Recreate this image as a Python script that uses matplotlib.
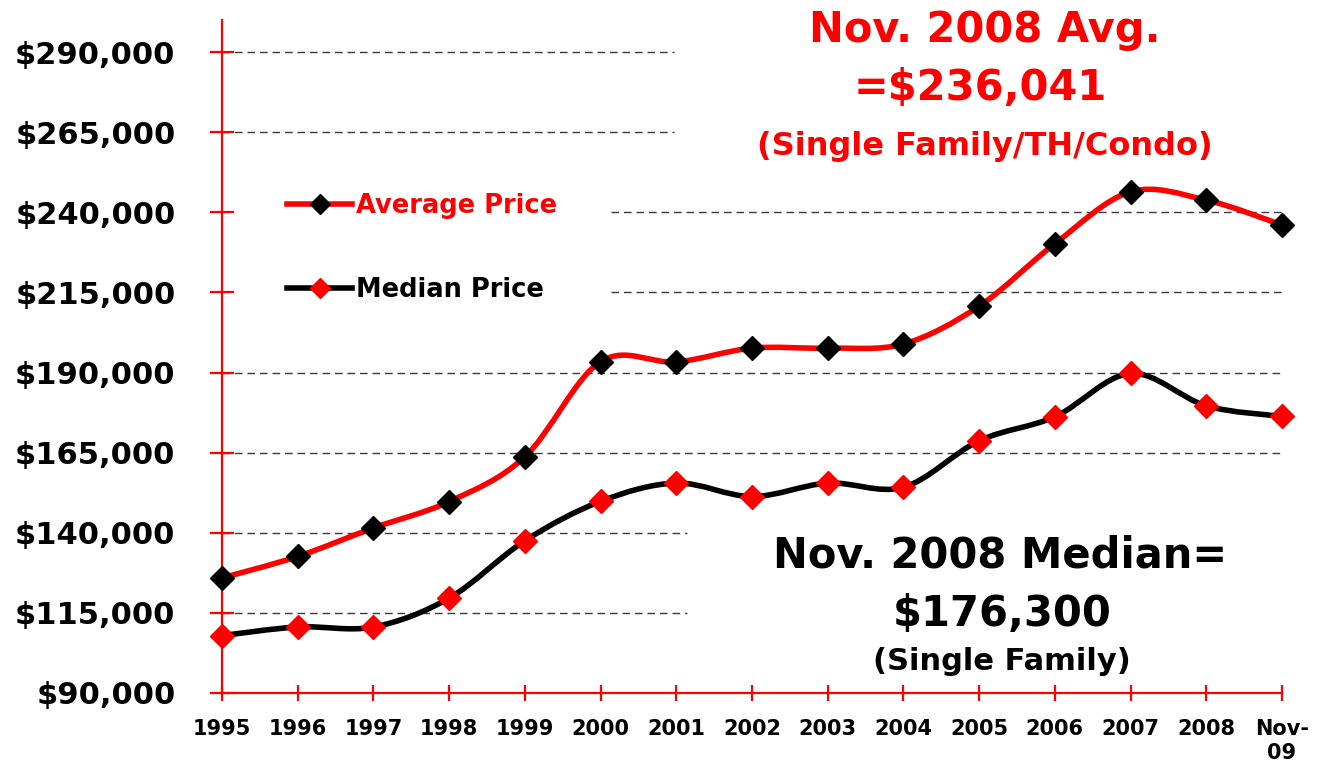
import matplotlib
matplotlib.use('Agg')
import matplotlib.pyplot as plt
import numpy as np
from matplotlib.path import Path
from matplotlib.patches import PathPatch
from matplotlib.lines import Line2D
from matplotlib.ticker import FuncFormatter

plt.rcParams['font.family'] = ['DejaVu Sans']
plt.rcParams['font.weight'] = 'bold'

# Data
years = ['1995', '1996', '1997', '1998', '1999', '2000', '2001', '2002',
         '2003', '2004', '2005', '2006', '2007', '2008', 'Nov-\n09']
avg_price = [125900, 132600, 141500, 149700, 163700, 193400, 193300, 197600,
             197600, 198900, 210700, 230200, 246400, 243800, 236041]
median_price = [107900, 110600, 110600, 119600, 137500, 149800, 155500, 151300,
                155500, 154200, 168700, 176200, 189700, 179600, 176300]
y_ticks = [90000, 115000, 140000, 165000, 190000, 215000, 240000, 265000, 290000]

RED = '#ff0000'


def smooth_path(xs, ys):
    # excel-style smoothed line: catmull-rom as cubic beziers
    pts = np.column_stack([xs, ys]).astype(float)
    ext = np.vstack([pts[0], pts, pts[-1]])
    verts = [pts[0]]
    codes = [Path.MOVETO]
    for i in range(len(pts) - 1):
        p0, p1, p2, p3 = ext[i], ext[i + 1], ext[i + 2], ext[i + 3]
        verts += [p1 + (p2 - p0) / 6.0, p2 - (p3 - p1) / 6.0, p2]
        codes += [Path.CURVE4] * 3
    return Path(verts, codes)


fig = plt.figure(figsize=(13.25, 7.72), dpi=100)
ax = fig.add_axes([222 / 1325, 1 - 693 / 772, 1060 / 1325, 673 / 772])

x = np.arange(len(years))

# partial dashed gridlines (text boxes cover parts of them in the original)
grid_spans = {290000: (0, 0.4264), 265000: (0, 0.4264),
              240000: (0.367, 1), 215000: (0.367, 1),
              190000: (0, 1), 165000: (0, 1),
              140000: (0, 0.4387), 115000: (0, 0.4387)}
for yv, (a, b) in grid_spans.items():
    ax.axhline(yv, xmin=a, xmax=b, color='#3a3a3a', lw=1.0,
               dashes=(5.5, 3.5), zorder=1)

ax.add_patch(PathPatch(smooth_path(x, avg_price), fill=False, edgecolor=RED,
                       lw=4.0, capstyle='round', joinstyle='round', zorder=3))
ax.add_patch(PathPatch(smooth_path(x, median_price), fill=False, edgecolor='black',
                       lw=4.0, capstyle='round', joinstyle='round', zorder=3))
ax.plot(x, avg_price, ls='none', marker='D', ms=12, mfc='black', mec='black',
        zorder=4, clip_on=False)
ax.plot(x, median_price, ls='none', marker='D', ms=12, mfc=RED, mec=RED,
        zorder=4, clip_on=False)

ax.set_xlim(0, len(years) - 1)
ax.set_ylim(90000, 300000)
ax.set_xticks(x)
ax.set_xticklabels(years, fontsize=15, fontweight='bold', linespacing=1.25)
ax.set_yticks(y_ticks)
ax.yaxis.set_major_formatter(FuncFormatter(lambda v, p: '${:,.0f}'.format(v)))
for lab in ax.get_yticklabels():
    lab.set_fontsize(22)
    lab.set_fontweight('bold')

for s in ['top', 'right']:
    ax.spines[s].set_visible(False)
for s in ['left', 'bottom']:
    ax.spines[s].set_color(RED)
    ax.spines[s].set_linewidth(1.6)
    ax.spines[s].set_zorder(2)
ax.tick_params(axis='y', direction='inout', length=17, width=1.6, color=RED, pad=25)
ax.tick_params(axis='x', direction='inout', length=11, width=1.6, color=RED, pad=13)

handles = [Line2D([], [], color=RED, lw=4.0, marker='D', ms=10.5, mfc='black', mec='black'),
           Line2D([], [], color='black', lw=4.0, marker='D', ms=10.5, mfc=RED, mec=RED)]
leg = ax.legend(handles, ['Average Price', 'Median Price'], loc='center left',
                bbox_to_anchor=(0.0613, 0.661), frameon=False, borderpad=0,
                borderaxespad=0, handlelength=2.55, handletextpad=0.12,
                labelspacing=2.25, numpoints=1,
                prop={'size': 18.5, 'weight': 'bold'})
leg.get_texts()[0].set_color(RED)
leg.get_texts()[1].set_color('black')

# annotations
fig.text(985 / 1325, 1 - 30 / 772, 'Nov. 2008 Avg.', color=RED, fontsize=30,
         fontweight='bold', ha='center', va='center')
fig.text(980 / 1325, 1 - 88 / 772, '=$236,041', color=RED, fontsize=30,
         fontweight='bold', ha='center', va='center')
fig.text(985 / 1325, 1 - 147 / 772, '(Single Family/TH/Condo)', color=RED,
         fontsize=23, fontweight='bold', ha='center', va='center')
fig.text(1000 / 1325, 1 - 556 / 772, 'Nov. 2008 Median=', color='black',
         fontsize=30, fontweight='bold', ha='center', va='center')
fig.text(1002 / 1325, 1 - 614 / 772, '$176,300', color='black', fontsize=30,
         fontweight='bold', ha='center', va='center')
fig.text(1002 / 1325, 1 - 662 / 772, '(Single Family)', color='black', fontsize=22,
         fontweight='bold', ha='center', va='center')

fig.savefig('out.png', dpi=100, facecolor='white')
